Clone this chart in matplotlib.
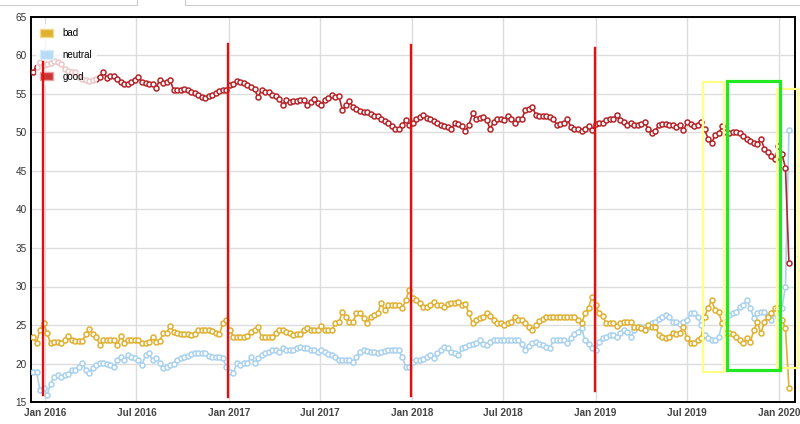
import pandas as pd
import matplotlib
matplotlib.use("Agg")
from matplotlib import pyplot as plt
from matplotlib.patches import Patch, Rectangle

plt.rcParams['font.family'] = ['Liberation Sans', 'DejaVu Sans']

# weekly poll shares, first week 2015-12-08
start_date = "2015-12-08"

good = [
    57.9, 58.5, 59.1, 58.8, 58.9, 59.0, 59.3, 59.2, 58.9, 58.3,
    58.0, 57.9, 57.8, 57.2, 56.9, 56.8, 56.7, 56.8, 57.0, 57.2,
    57.9, 57.1, 57.3, 57.4, 57.0, 56.6, 56.3, 56.3, 56.6, 56.8,
    57.2, 56.5, 56.4, 56.3, 56.3, 55.8, 56.8, 56.4, 56.6, 56.8,
    55.5, 55.5, 55.5, 55.6, 55.5, 55.3, 55.1, 54.9, 54.6, 54.5,
    54.8, 54.9, 55.1, 55.4, 55.5, 55.5, 56.2, 56.3, 56.7, 56.5,
    56.4, 56.2, 55.9, 55.6, 54.6, 55.5, 55.3, 55.2, 54.9, 54.7,
    54.4, 53.6, 54.2, 54.0, 54.1, 54.1, 54.2, 54.2, 53.6, 53.9,
    54.3, 53.8, 53.6, 54.2, 54.5, 54.9, 54.6, 54.7, 52.9, 53.6,
    54.1, 53.3, 53.0, 52.8, 52.7, 52.6, 52.4, 52.2, 52.2, 51.8,
    51.5, 51.2, 50.8, 50.5, 50.4, 51.0, 51.6, 51.0, 51.2, 51.8,
    52.0, 52.3, 51.9, 51.7, 51.5, 51.2, 51.0, 50.9, 50.7, 50.5,
    51.2, 51.1, 50.9, 50.2, 51.0, 52.5, 51.7, 51.9, 52.0, 51.6,
    50.5, 51.3, 51.8, 51.7, 51.6, 52.1, 51.8, 51.2, 51.7, 51.7,
    52.9, 53.1, 53.3, 52.3, 52.1, 52.1, 52.1, 52.0, 51.7, 51.0,
    51.1, 51.2, 51.7, 50.7, 50.5, 50.4, 50.2, 50.5, 50.8, 50.3,
    51.1, 51.2, 51.2, 51.6, 51.7, 51.8, 52.3, 51.6, 51.3, 51.0,
    51.2, 51.0, 51.0, 51.1, 51.3, 50.4, 49.9, 50.2, 51.0, 51.1,
    51.1, 51.0, 51.0, 50.7, 51.0, 50.3, 51.3, 51.1, 50.8, 51.0,
    51.4, 50.4, 49.2, 48.6, 49.7, 49.9, 50.8, 50.1, 49.9, 50.0,
    50.0, 49.9, 49.6, 49.2, 48.9, 48.7, 48.5, 49.2, 47.9, 47.5,
    46.9, 46.6, 48.2, 47.2, 45.4, 33.0,
]

bad = [
    23.4, 22.7, 24.4, 25.3, 23.9, 22.6, 22.8, 22.8, 22.6, 23.0,
    23.6, 23.0, 22.9, 22.9, 22.9, 23.8, 24.5, 23.8, 23.4, 22.4,
    23.0, 23.1, 23.0, 23.0, 22.4, 23.6, 22.7, 23.0, 23.0, 23.0,
    23.0, 22.6, 22.6, 22.8, 23.4, 22.8, 22.9, 23.9, 24.0, 24.9,
    24.1, 23.9, 23.8, 23.8, 23.8, 23.7, 23.8, 24.3, 24.3, 24.3,
    24.3, 24.2, 24.0, 23.8, 25.2, 25.6, 24.4, 23.5, 23.5, 23.5,
    23.4, 23.6, 24.1, 24.3, 24.8, 23.4, 23.4, 23.4, 23.4, 23.9,
    24.3, 24.3, 24.1, 23.9, 23.7, 23.8, 23.8, 24.3, 24.6, 24.4,
    24.4, 24.4, 24.9, 24.4, 24.4, 24.4, 25.2, 25.4, 26.7, 26.1,
    25.4, 25.4, 26.5, 26.5, 25.9, 25.3, 26.0, 26.3, 26.5, 27.9,
    26.9, 27.6, 27.6, 27.6, 27.6, 27.2, 28.2, 29.6, 28.5, 28.2,
    27.9, 27.4, 27.4, 27.6, 28.0, 27.6, 27.6, 27.4, 27.7, 27.8,
    27.8, 28.0, 27.6, 27.7, 26.5, 25.2, 25.6, 25.9, 26.1, 26.5,
    26.2, 25.6, 25.2, 25.3, 25.0, 25.2, 25.4, 26.1, 25.6, 25.7,
    25.3, 24.8, 24.3, 25.0, 25.5, 25.8, 26.0, 26.1, 26.1, 26.0,
    26.0, 26.1, 26.0, 26.0, 26.1, 25.7, 25.2, 26.5, 27.2, 28.7,
    27.6, 26.5, 26.2, 25.2, 25.2, 25.2, 24.9, 25.3, 25.4, 25.4,
    25.4, 24.8, 24.8, 24.6, 24.3, 25.0, 24.8, 24.8, 23.7, 23.5,
    23.3, 23.5, 23.9, 23.8, 24.0, 24.8, 23.3, 22.6, 22.6, 23.0,
    23.3, 26.1, 27.2, 28.2, 26.9, 26.7, 25.2, 23.9, 24.0, 23.8,
    23.5, 23.0, 22.6, 23.3, 22.8, 24.3, 25.4, 23.9, 25.4, 26.1,
    26.5, 27.2, 27.2, 25.7, 24.6, 16.8,
]

neutral = [
    18.9, 18.9, 16.5, 16.8, 15.9, 17.4, 18.3, 18.5, 18.2, 18.5,
    18.6, 19.2, 19.2, 19.5, 20.1, 19.2, 18.8, 19.4, 19.8, 20.1,
    20.1, 20.0, 19.8, 19.5, 20.4, 20.8, 20.4, 21.1, 20.9, 20.7,
    20.5, 19.8, 21.1, 21.3, 20.4, 20.7, 20.1, 19.4, 19.6, 19.8,
    20.0, 20.4, 20.7, 20.8, 21.0, 21.2, 21.4, 21.3, 21.3, 21.4,
    21.0, 20.9, 20.9, 20.8, 20.7, 19.5, 18.9, 18.8, 20.1, 19.8,
    20.1, 20.1, 20.8, 20.1, 20.7, 21.1, 21.4, 21.5, 21.7, 21.8,
    21.5, 22.0, 21.8, 21.7, 21.8, 22.0, 22.2, 22.0, 22.0, 21.8,
    21.7, 21.5, 21.7, 21.5, 21.2, 21.1, 20.8, 20.4, 20.5, 20.5,
    20.4, 20.2, 20.8, 21.5, 21.7, 21.6, 21.5, 21.5, 21.3, 21.5,
    21.6, 21.8, 21.7, 21.7, 21.8, 20.8, 19.6, 19.5, 20.2, 20.5,
    20.5, 20.6, 20.8, 21.1, 20.7, 21.4, 21.7, 22.2, 22.0, 21.5,
    21.3, 21.1, 22.0, 22.2, 22.4, 22.5, 22.7, 23.0, 22.5, 22.4,
    22.8, 23.0, 23.0, 23.0, 23.0, 23.0, 23.0, 23.0, 23.0, 22.5,
    21.7, 22.3, 22.6, 22.8, 22.5, 22.4, 22.2, 22.0, 23.0, 23.0,
    23.1, 23.0, 22.6, 23.3, 23.8, 24.1, 24.6, 23.0, 22.5, 22.0,
    21.7, 22.8, 23.3, 23.5, 23.7, 23.7, 23.4, 23.9, 24.3, 24.1,
    23.5, 24.3, 24.7, 24.7, 24.8, 24.8, 25.2, 25.4, 25.8, 26.0,
    26.3, 26.0, 25.4, 25.4, 25.1, 25.4, 25.6, 26.5, 26.6, 26.1,
    25.0, 23.7, 23.3, 23.0, 23.1, 23.4, 25.2, 26.0, 26.3, 26.5,
    26.7, 27.4, 27.6, 28.2, 27.2, 25.9, 26.5, 26.7, 26.7, 26.2,
    25.7, 26.5, 26.1, 27.2, 30.0, 50.3,
]

tick_dates = ["2016-01-01", "2016-07-01", "2017-01-01", "2017-07-01", "2018-01-01",
              "2018-07-01", "2019-01-01", "2019-07-01", "2020-01-01"]
tick_labels = ["Jan 2016", "Jul 2016", "Jan 2017", "Jul 2017", "Jan 2018",
               "Jul 2018", "Jan 2019", "Jul 2019", "Jan 2020"]
y_ticks = [15, 20, 25, 30, 35, 40, 45, 50, 55, 60, 65]

# hand drawn marks on top of the chart: date, y from, y to
red_marks = [("2015-12-27", 15.9, 59.2), ("2016-12-31", 15.6, 61.5),
             ("2017-12-30", 15.8, 61.4), ("2018-12-31", 16.4, 61.0)]
# date from, date to, y from, y to, colour, width
boxes = [("2019-08-02", "2019-09-13", 18.9, 56.6, "#ffff88", 1.6),
         ("2019-12-28", "2020-02-07", 19.4, 55.7, "#ffff88", 1.6),
         ("2019-09-20", "2020-01-04", 19.2, 56.7, "#22e822", 2.3)]

COL_GOOD = "#b5252a"
COL_BAD = "#e0b030"
COL_NEUTRAL = "#a9d2ef"

dates = pd.date_range(start_date, periods=len(good), freq="7D")

fig = plt.figure(figsize=(8, 4.24), dpi=100)
ax = fig.add_axes([31 / 800, 1 - 402 / 424, 764 / 800, 385 / 424])

for series, col in [(neutral, COL_NEUTRAL), (bad, COL_BAD), (good, COL_GOOD)]:
    ax.plot(dates, series, color=col, lw=1.2, marker="o", ms=3.6,
            mfc="white", mec=col, mew=1.1, zorder=3)

ax.set_ylim(15, 65)
ax.set_xlim(pd.Timestamp("2015-12-04"), pd.Timestamp("2020-02-02"))
ax.set_yticks(y_ticks)
ax.set_xticks(pd.to_datetime(tick_dates))
ax.set_xticklabels(tick_labels)
ax.tick_params(length=0, labelsize=7.2, colors="#333333", pad=3)
ax.tick_params(axis="x", pad=4)
for lab in ax.get_xticklabels():
    lab.set_fontweight("bold")
    lab.set_color("#444444")
ax.grid(True, color="#dddddd", lw=1)
ax.set_axisbelow(True)
for sp in ax.spines.values():
    sp.set_color("black")
    sp.set_linewidth(1.4)

leg = ax.legend(
    handles=[Patch(facecolor=COL_BAD, edgecolor="#f3d98a", label="bad"),
             Patch(facecolor="#b9dcf6", edgecolor="#d8ecfb", label="neutral"),
             Patch(facecolor="#cc3535", edgecolor="#e8a0a0", label="good")],
    loc="upper left", bbox_to_anchor=(0.006, 0.982), borderaxespad=0,
    fontsize=7, handlelength=1.35, handleheight=0.95, handletextpad=1.0,
    labelspacing=1.2, borderpad=0.45, frameon=True, fancybox=False)
leg.get_frame().set_facecolor("white")
leg.get_frame().set_alpha(0.75)
leg.get_frame().set_linewidth(0)
leg.set_zorder(5)

for d, y0, y1 in red_marks:
    ax.plot([pd.Timestamp(d)] * 2, [y0, y1], color="#e01010", lw=1.7,
            zorder=6, clip_on=False)

for d0, d1, y0, y1, col, w in boxes:
    x0 = matplotlib.dates.date2num(pd.Timestamp(d0))
    x1 = matplotlib.dates.date2num(pd.Timestamp(d1))
    ax.add_patch(Rectangle((x0, y0), x1 - x0, y1 - y0, fill=False,
                           edgecolor=col, lw=w, zorder=6, clip_on=False))

# bits of page chrome above the chart
fig.add_artist(Rectangle((-0.01, 1 - 5 / 424), 137 / 800 + 0.01, 0.05,
                         transform=fig.transFigure, fill=False,
                         edgecolor="#cccccc", lw=0.8))
fig.add_artist(Rectangle((185 / 800, 1 - 5 / 424), 0.8, 0.05,
                         transform=fig.transFigure, fill=False,
                         edgecolor="#cccccc", lw=0.8))

fig.savefig("out.png", dpi=100)
